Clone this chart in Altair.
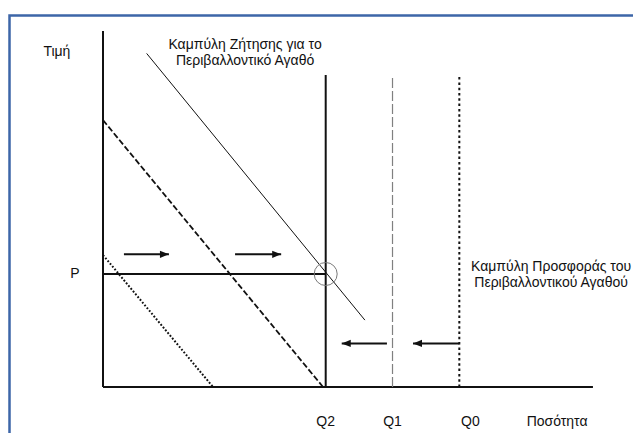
import altair as alt
import pandas as pd

# ---------------- data (economic units) ----------------
q_names = ["Q2", "Q1", "Q0"]
q_values = [100, 130, 160]
q_label_x = [100, 130, 165]
supply_tops = [138, 137, 138]
price_p = 50
axis_q_max = 220
axis_p_max = 157.5

demand_q = [19.6, 117.6]
demand_p = [147.6, 29.6]
dashed_demand_q = [0, 98.8]
dashed_demand_p = [118.1, 0]
dotted_demand_q = [0, 49.4]
dotted_demand_p = [58.4, 0]

right_arrow_tail = [9.4, 59.3]
right_arrow_tip = [29.6, 80.0]
right_arrow_p = 58.7
left_arrow_tail = [127.5, 160.0]
left_arrow_tip = [107.2, 139.2]
left_arrow_p = 19.3

demand_title = ["Καμπύλη Ζήτησης για το", "Περιβαλλοντικό Αγαθό"]
supply_title = ["Καμπύλη Προσφοράς του", "Περιβαλλοντικού Αγαθού"]
price_label = "Τιμή"
quantity_label = "Ποσότητα"

# ---------------- scales ----------------
W, H = 625, 425
xu, yu = 2.227, 2.26
x0, y0 = 95, 379
xs = alt.Scale(domain=[-x0 / xu, (W - x0) / xu], zero=False, nice=False)
ys = alt.Scale(domain=[-(H - y0) / yu, y0 / yu], zero=False, nice=False)


def X(f="x"):
    return alt.X(f, type="quantitative", scale=xs, axis=None)


def Y(f="y"):
    return alt.Y(f, type="quantitative", scale=ys, axis=None)


FONT = "Liberation Sans"
FS = 14
INK = "#111111"

# border (frame chrome)
border = alt.Chart(pd.DataFrame({"a": [0]})).mark_rect(
    fill=None, stroke="#3d66a8", strokeWidth=2.5
).encode(x=alt.value(1.5), x2=alt.value(900), y=alt.value(7.5), y2=alt.value(900))

# axes
axes_df = pd.DataFrame({
    "x": [0, 0], "x2": [0, axis_q_max],
    "y": [0, 0], "y2": [axis_p_max, 0],
})
axes = alt.Chart(axes_df).mark_rule(color=INK, strokeWidth=2).encode(
    x=X(), x2="x2", y=Y(), y2="y2")

sup_df = pd.DataFrame({"x": q_values, "y": [0, 0, 0], "y2": supply_tops, "name": q_names})
sup_q2 = alt.Chart(sup_df[sup_df.name == "Q2"]).mark_rule(color=INK, strokeWidth=2).encode(
    x=X(), y=Y(), y2="y2")
sup_q1 = alt.Chart(sup_df[sup_df.name == "Q1"]).mark_rule(
    color="#808080", strokeWidth=1.2, strokeDash=[10, 3]).encode(x=X(), y=Y(), y2="y2")
sup_q0 = alt.Chart(sup_df[sup_df.name == "Q0"]).mark_rule(
    color=INK, strokeWidth=2, strokeDash=[2.5, 2.8]).encode(x=X(), y=Y(), y2="y2")

p_line = alt.Chart(pd.DataFrame({"x": [0], "x2": [q_values[0]], "y": [price_p]})).mark_rule(
    color=INK, strokeWidth=2).encode(x=X(), x2="x2", y=Y())

demand = alt.Chart(pd.DataFrame({"x": demand_q, "y": demand_p})).mark_line(
    color=INK, strokeWidth=1).encode(x=X(), y=Y())
dashed = alt.Chart(pd.DataFrame({"x": dashed_demand_q, "y": dashed_demand_p})).mark_line(
    color=INK, strokeWidth=1.8, strokeDash=[6, 2.5]).encode(x=X(), y=Y())
dotted = alt.Chart(pd.DataFrame({"x": dotted_demand_q, "y": dotted_demand_p})).mark_line(
    color=INK, strokeWidth=2, strokeDash=[1.8, 1.8]).encode(x=X(), y=Y())

# arrows
arr_df = pd.DataFrame({
    "x": right_arrow_tail + left_arrow_tail,
    "x2": right_arrow_tip + left_arrow_tip,
    "y": [right_arrow_p] * 2 + [left_arrow_p] * 2,
})
shafts = alt.Chart(arr_df).mark_rule(color=INK, strokeWidth=2).encode(x=X(), x2="x2", y=Y())
heads_r = alt.Chart(pd.DataFrame({"x": right_arrow_tip, "y": [right_arrow_p] * 2})).mark_point(
    shape="M0,0L-2,-0.8L-2,0.8Z", filled=True, color=INK, size=81, opacity=1).encode(x=X(), y=Y())
heads_l = alt.Chart(pd.DataFrame({"x": left_arrow_tip, "y": [left_arrow_p] * 2})).mark_point(
    shape="M0,0L2,-0.8L2,0.8Z", filled=True, color=INK, size=81, opacity=1).encode(x=X(), y=Y())

circle = alt.Chart(pd.DataFrame({"x": [q_values[0]], "y": [price_p]})).mark_point(
    shape="circle", filled=False, color="#7a7a7a", strokeWidth=1, size=529, opacity=1
).encode(x=X(), y=Y())

# texts
txt_df = pd.DataFrame({
    "x": [-20.7, -12.6] + q_label_x + [203.9, 63.8, 63.8, 201.2, 201.2],
    "y": [148.2, price_p] + [-15.4] * 3 + [-15.4, 151.3, 144.2, 53.3, 46.0],
    "t": [price_label, "P"] + q_names + [quantity_label] + demand_title + supply_title,
})
texts = alt.Chart(txt_df).mark_text(
    font=FONT, fontSize=FS, color=INK, align="center", baseline="middle"
).encode(x=X(), y=Y(), text="t:N")

chart = alt.layer(
    border, axes, sup_q2, sup_q1, sup_q0, p_line, demand, dashed, dotted,
    shafts, heads_r, heads_l, circle, texts
).properties(
    width=W, height=H, padding=0, autosize=alt.AutoSizeParams(type="none"),
    background="white"
).configure_view(stroke=None)

chart.save("out.html", embed_options={"renderer": "svg", "actions": False})
